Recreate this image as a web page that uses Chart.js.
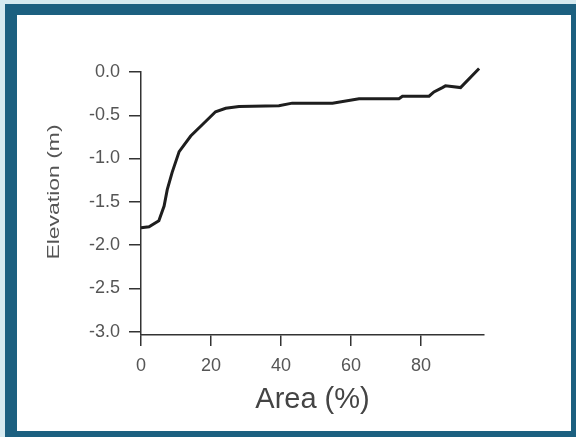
<!DOCTYPE html>
<html lang="en">
<head>
    <meta charset="UTF-8">
    <title>Elevation vs Area</title>
    <script src="https://cdn.jsdelivr.net/npm/chart.js"></script>
    <style>
        body {
            margin: 0;
            background-color: #d6eaf0;
            font-family: "Liberation Sans", Arial, sans-serif;
        }

        #frame {
            position: absolute;
            left: 5px;
            top: 4px;
            width: 571px;
            height: 433px;
            box-sizing: border-box;
            border-style: solid;
            border-color: #1c6080;
            border-width: 11px 5px 6px 12px;
            background-color: white;
        }

        canvas {
            display: block;
        }
    </style>
</head>
<body>
    <div id="frame">
        <canvas id="hypsoChart" width="554" height="416"></canvas>
    </div>

    <script>
        // hypsometric curve
        const areaPct = [0, 2.3, 5.1, 6.6, 7.5, 8.9, 10.9, 14.2, 17.5, 21.3, 24.2, 28, 39.4, 43.2, 54.7, 62.3, 73.7, 74.7, 82.3, 83.7, 86.1, 87, 91.3, 96.6];
        const elevation = [-1.80, -1.79, -1.72, -1.55, -1.36, -1.16, -0.92, -0.74, -0.61, -0.46, -0.42, -0.40, -0.39, -0.36, -0.36, -0.31, -0.31, -0.28, -0.28, -0.23, -0.18, -0.16, -0.18, 0.04];

        const xTicks = [0, 20, 40, 60, 80];
        const yTicks = [0, -0.5, -1.0, -1.5, -2.0, -2.5, -3.0];

        const xTitle = 'Area (%)';
        const yTitle = 'Elevation (m)';

        const points = areaPct.map((a, i) => ({ x: a, y: elevation[i] }));

        // y axis title drawn by hand so it can sit where the original has it
        const yTitlePlugin = {
            id: 'yTitle',
            afterDraw(chart) {
                const ctx = chart.ctx;
                ctx.save();
                ctx.translate(37, 177);
                ctx.rotate(-Math.PI / 2);
                ctx.scale(1.35, 1);
                ctx.font = '17px "Liberation Sans", Arial, sans-serif';
                ctx.fillStyle = '#555';
                ctx.textAlign = 'center';
                ctx.textBaseline = 'middle';
                ctx.fillText(yTitle, 0, 0);
                ctx.restore();
            }
        };

        const tickFont = { family: '"Liberation Sans", Arial, sans-serif', size: 18 };

        new Chart(document.getElementById('hypsoChart').getContext('2d'), {
            type: 'line',
            data: {
                datasets: [{
                    data: points,
                    borderColor: '#1e1e1e',
                    borderWidth: 3,
                    pointRadius: 0,
                    tension: 0,
                    fill: false,
                    clip: false
                }]
            },
            options: {
                responsive: false,
                animation: false,
                layout: { padding: { left: 0, top: 57, right: 87, bottom: 0 } },
                plugins: {
                    legend: { display: false },
                    tooltip: { enabled: false }
                },
                scales: {
                    x: {
                        type: 'linear',
                        min: 0,
                        max: 98,
                        afterBuildTicks: axis => { axis.ticks = xTicks.map(v => ({ value: v })); },
                        afterFit: axis => { axis.height = 96; },
                        grid: { drawOnChartArea: false, drawTicks: true, tickLength: 11, color: '#333', lineWidth: 1.5 },
                        border: { display: true, color: '#333', width: 1.5 },
                        ticks: { color: '#555', font: tickFont, padding: 9, maxRotation: 0 },
                        title: {
                            display: true,
                            text: xTitle,
                            color: '#444',
                            font: { family: '"Liberation Sans", Arial, sans-serif', size: 29 },
                            padding: { top: 0, bottom: 14 }
                        }
                    },
                    y: {
                        type: 'linear',
                        min: -3.04,
                        max: 0,
                        afterBuildTicks: axis => { axis.ticks = yTicks.map(v => ({ value: v })); },
                        afterFit: axis => { axis.width = 124; },
                        grid: { drawOnChartArea: false, drawTicks: true, tickLength: 12, color: '#333', lineWidth: 1.5 },
                        border: { display: true, color: '#333', width: 1.5 },
                        ticks: {
                            color: '#555',
                            font: tickFont,
                            padding: 9,
                            callback: v => v.toFixed(1)
                        }
                    }
                }
            },
            plugins: [yTitlePlugin]
        });
    </script>
</body>
</html>
